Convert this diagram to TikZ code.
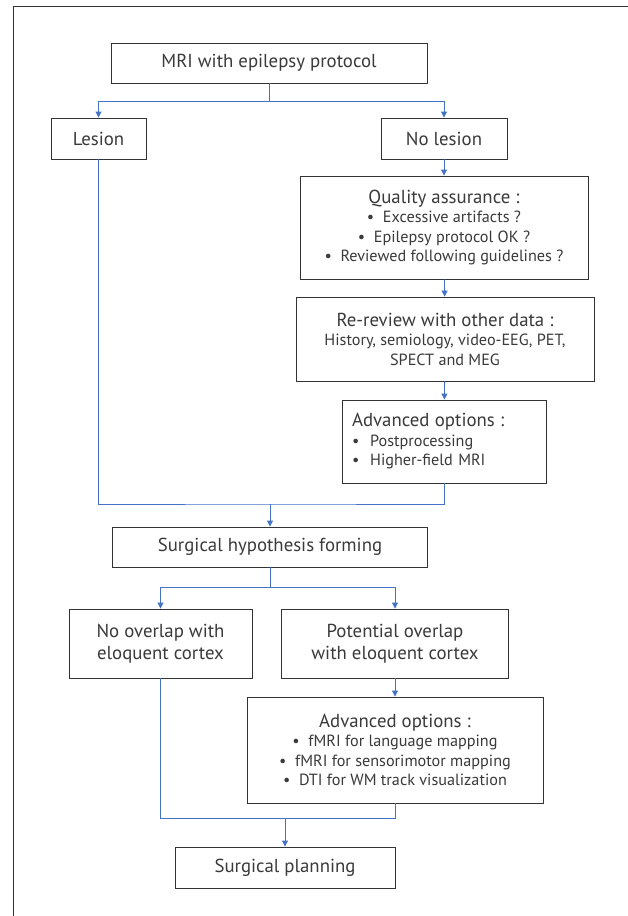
\documentclass[tikz,border=0pt]{standalone}
\usepackage{fontspec}
\setmainfont{PT Sans}
\usetikzlibrary{arrows.meta}
\definecolor{linkblue}{HTML}{4472C4}
\definecolor{boxgray}{HTML}{333333}
\definecolor{textgray}{HTML}{3A3A3A}
\newcommand{\bigsize}{\fontsize{18.8}{22.5}\selectfont}
\newcommand{\smallsize}{\fontsize{16.2}{19.5}\selectfont}
\begin{document}
\begin{tikzpicture}[
        x=1pt, y=-1pt,
        % 方框樣式:黑框白底
        flow_box/.style={
            draw=boxgray,
            fill=white,
            line width=0.9pt,
            inner sep=0pt,
            text=textgray,
            font=\bigsize,
            align=center
        },
        % 條列方框樣式:小字
        list_box/.style={
            flow_box,
            font=\smallsize
        },
        % 連接線樣式:藍色細線
        link_edge/.style={
            draw=linkblue,
            line width=0.9pt
        },
        % 箭頭樣式
        link_arrow/.style={
            link_edge,
            -{Triangle[length=6pt,width=6pt]}
        },
        % 外框樣式
        frame_line/.style={
            draw=boxgray,
            line width=1pt
        }
    ]
    \useasboundingbox (0,0) rectangle (628,916);

    % ==========================
    % 外框 (只看到左邊與上邊)
    % ==========================
    \draw[frame_line] (13,916) -- (13,6) -- (628,6);

    % ==========================
    % 上半部:MRI 判讀
    % ==========================
    % 1. 節點
    \node[flow_box, minimum width=316pt, minimum height=40pt] (mri) at (269,63) {MRI with epilepsy protocol};
    \node[flow_box, minimum width=95pt, minimum height=41pt] (lesion) at (98.5,138.5) {Lesion};
    \node[flow_box, minimum width=126pt, minimum height=41pt] (nolesion) at (444,138.5) {No lesion};
    \node[list_box, minimum width=288pt, minimum height=103pt] (quality) at (444,227.5)
        {{\bigsize Quality assurance :}\\
         \textbullet\ \ Excessive artifacts ?\\
         \textbullet\ \ Epilepsy protocol OK ?\\
         \textbullet\ \ Reviewed following guidelines ?};
    \node[list_box, minimum width=298pt, minimum height=84pt] (rereview) at (445,339)
        {{\bigsize Re-review with other data :}\\
         History, semiology, video-EEG, PET,\\
         SPECT and MEG};
    \node[list_box, minimum height=83pt, text width=184pt, inner xsep=10pt, align=left] (advmri) at (444,441.5)
        {{\bigsize Advanced options :}\\
         \textbullet\ \ Postprocessing\\
         \textbullet\ \ Higher-field MRI};

    % 2. 連接線
    \coordinate (split1) at ([yshift=-18pt]mri.south);
    \draw[link_edge] (mri.south) -- (split1);
    \draw[link_arrow] (split1) -| (lesion.north);
    \draw[link_arrow] (split1) -| (nolesion.north);
    \draw[link_arrow] (nolesion) -- (quality);
    \draw[link_arrow] (quality) -- (rereview);
    \draw[link_arrow] (rereview) -- (advmri);

    % ==========================
    % 下半部:手術假設與規劃
    % ==========================
    % 1. 節點
    \node[flow_box, minimum width=315pt, minimum height=40pt] (hypothesis) at (270,547) {Surgical hypothesis forming};
    \node[flow_box, minimum width=183pt, minimum height=69pt] (nooverlap) at (160.5,643.5) {No overlap with\\ eloquent cortex};
    \node[flow_box, minimum width=227pt, minimum height=69pt] (overlap) at (395,643.5) {Potential overlap\\ with eloquent cortex};
    \node[list_box, minimum width=296pt, minimum height=106pt] (advmap) at (395,750)
        {{\bigsize Advanced options :}\\
         \textbullet\ \ fMRI for language mapping\\
         \textbullet\ \ fMRI for sensorimotor mapping\\
         \textbullet\ \ DTI for WM track visualization};
    \node[flow_box, minimum width=220pt, minimum height=41pt] (planning) at (285,867.5) {Surgical planning};

    % 2. 連接線
    \coordinate (join1) at (270,504);
    \draw[link_edge] (lesion.south) |- (join1) -| (advmri.south);
    \draw[link_arrow] (join1) -- (hypothesis.north);
    \coordinate (split2) at ([yshift=-20pt]hypothesis.south);
    \draw[link_edge] (hypothesis.south) -- (split2);
    \draw[link_arrow] (split2) -| (nooverlap.north);
    \draw[link_arrow] (split2) -| (overlap.north);
    \draw[link_arrow] (overlap) -- (advmap);
    \coordinate (join2) at (285,818);
    \draw[link_edge] (nooverlap.south) |- (join2) -| (advmap.south);
    \draw[link_arrow] (join2) -- (planning.north);

\end{tikzpicture}
\end{document}
